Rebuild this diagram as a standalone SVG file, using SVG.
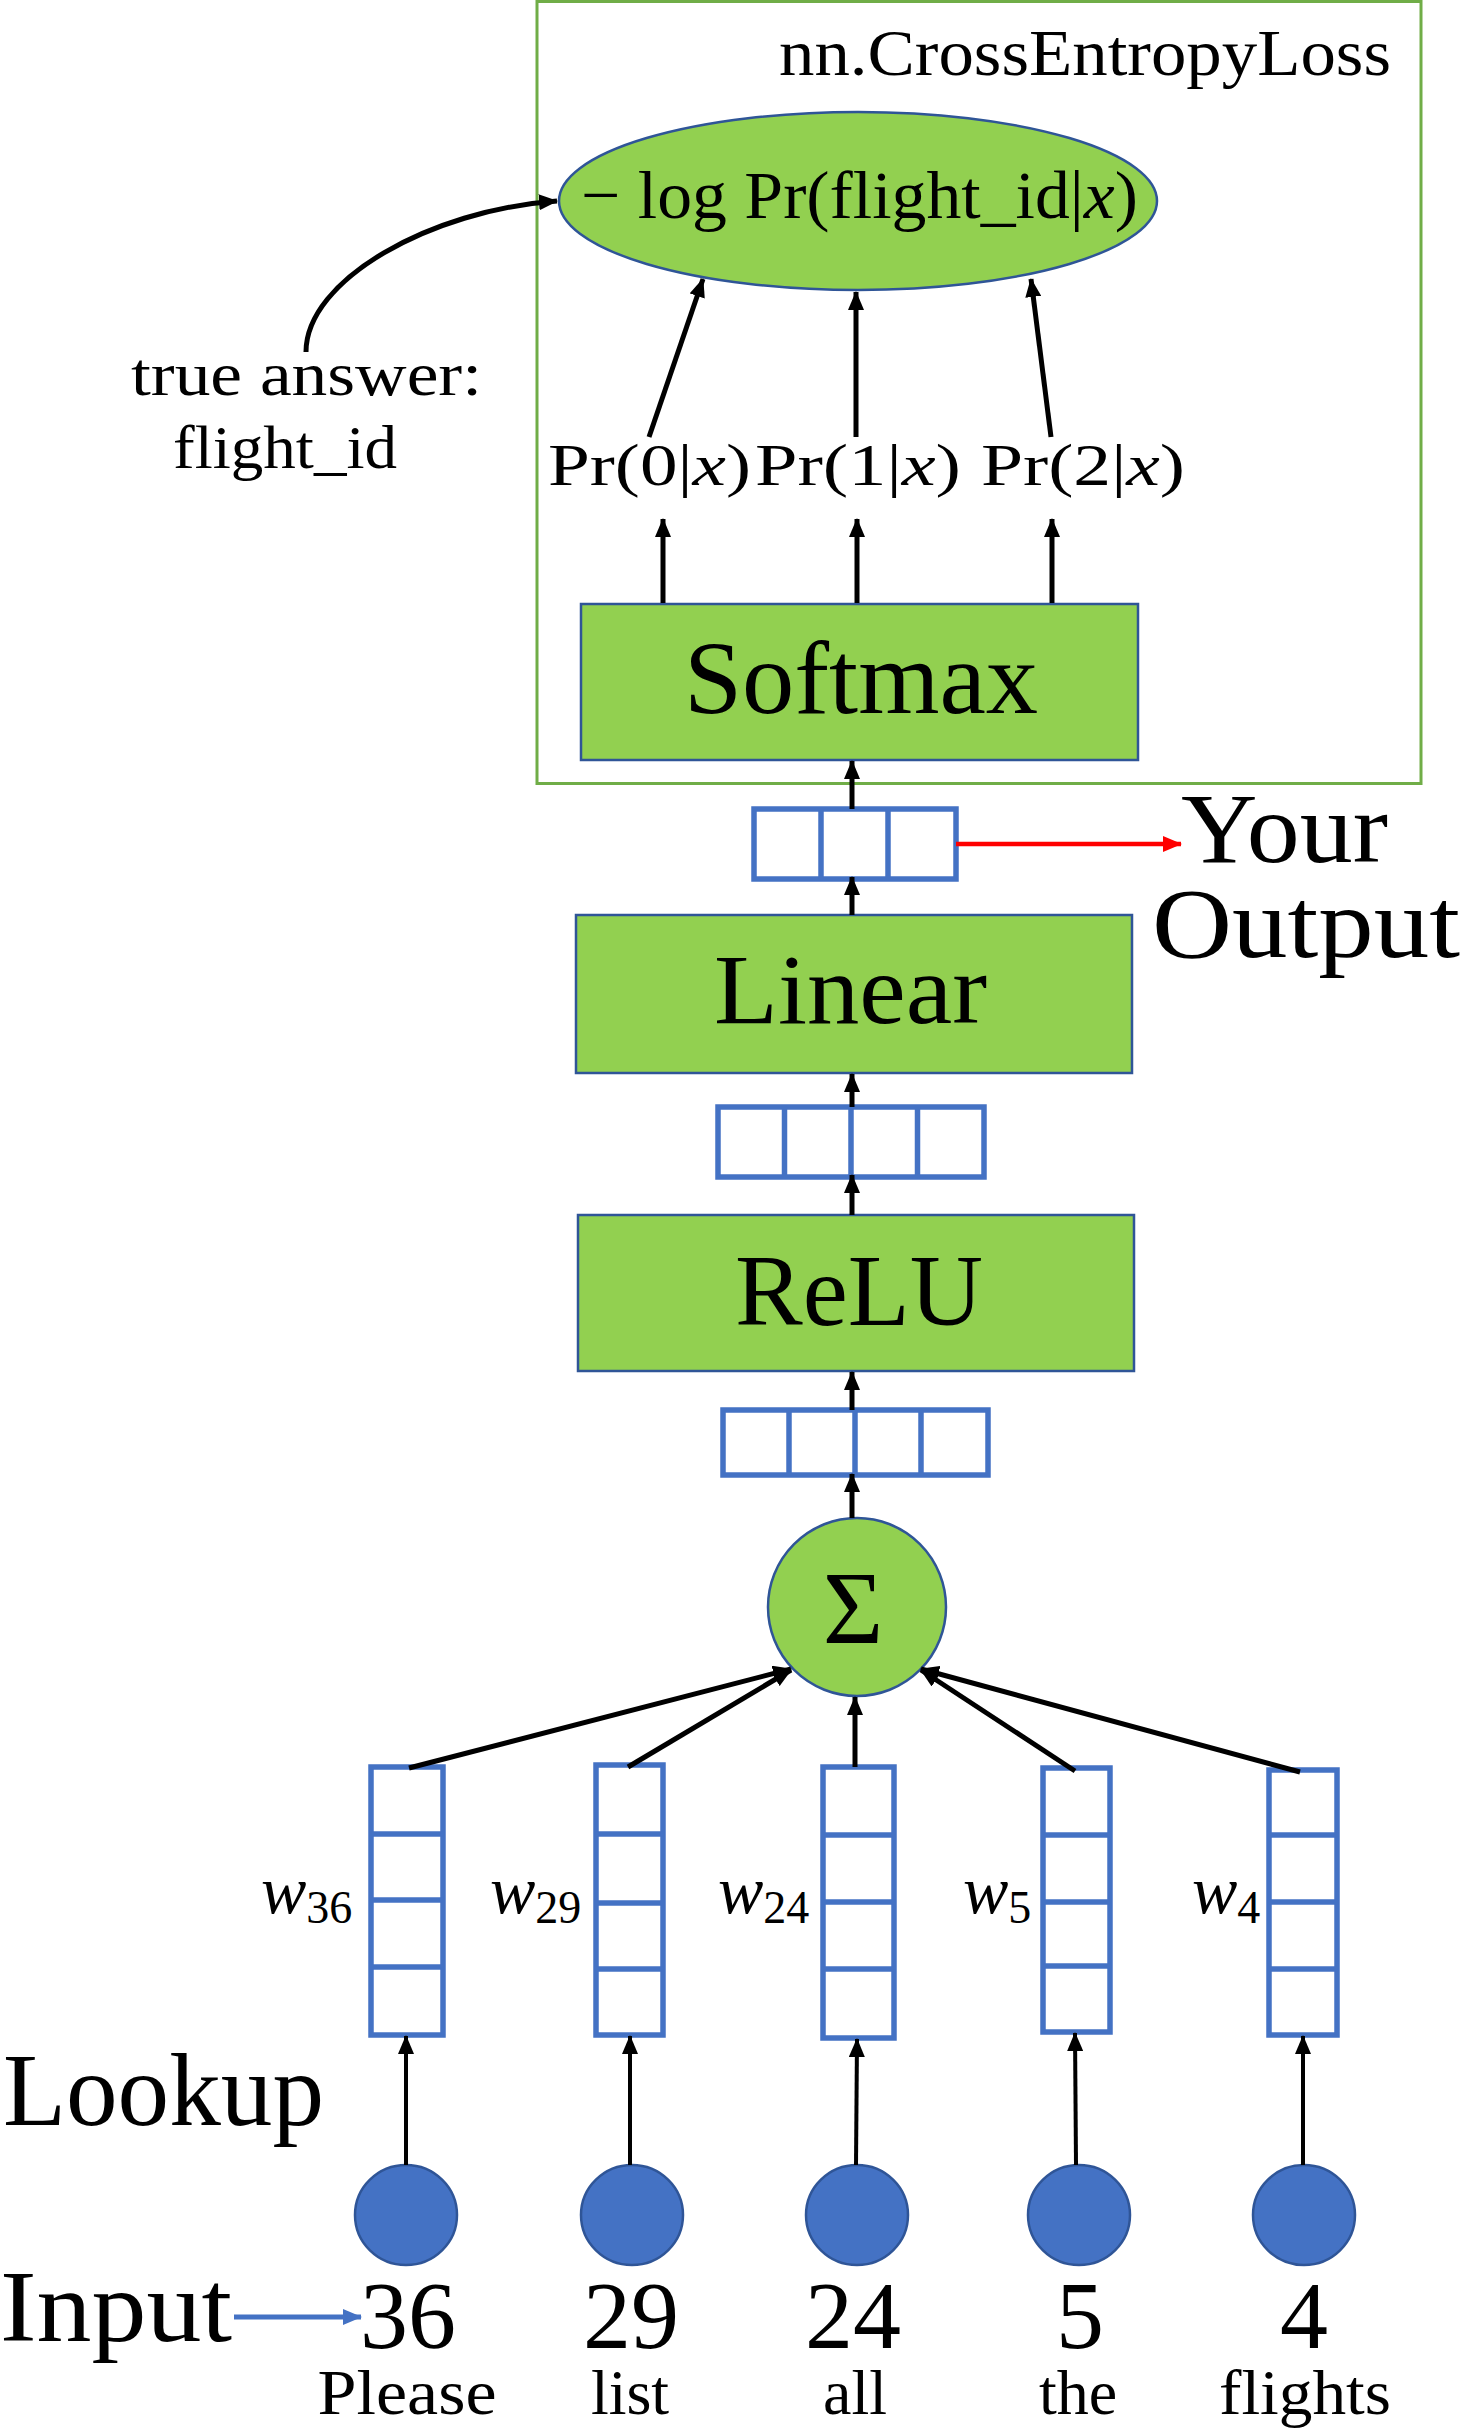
<svg xmlns="http://www.w3.org/2000/svg" width="1464" height="2431" viewBox="0 0 1464 2431">
<style>
text{font-family:"Liberation Serif","Times New Roman",serif;fill:#000}
.box{fill:#92D050;stroke:#2F5597;stroke-width:2.5}
.vec{fill:#fff;stroke:#4472C4;stroke-width:5.5}
.div{stroke:#4472C4;stroke-width:5.5}
.inp{fill:#4472C4;stroke:#2F5597;stroke-width:2.5}
.arr{stroke:#000;stroke-width:5;fill:none;marker-end:url(#ah)}
.thin{stroke-width:4}
.it{font-style:italic}
</style>
<defs>
<marker id="ah" markerUnits="userSpaceOnUse" markerWidth="20" markerHeight="16" refX="18" refY="8" orient="auto"><path d="M0,0 L19,8 L0,16 Z" fill="#000"/></marker>
<marker id="ahr" markerUnits="userSpaceOnUse" markerWidth="20" markerHeight="16" refX="18" refY="8" orient="auto"><path d="M0,0 L19,8 L0,16 Z" fill="#FF0000"/></marker>
<marker id="ahb" markerUnits="userSpaceOnUse" markerWidth="20" markerHeight="16" refX="18" refY="8" orient="auto"><path d="M0,0 L19,8 L0,16 Z" fill="#4472C4"/></marker>
</defs>
<rect width="1464" height="2431" fill="#fff"/>

<g id="loss-frame">
<rect x="537" y="1.5" width="884" height="782" fill="none" stroke="#70AD47" stroke-width="3"/>
<text x="779" y="75" font-size="66" textLength="612" lengthAdjust="spacingAndGlyphs">nn.CrossEntropyLoss</text>
</g>

<g id="loss-node">
<ellipse cx="858" cy="201" rx="299" ry="89" class="box"/>
<text x="581" y="218" font-size="68" textLength="557" lengthAdjust="spacingAndGlyphs">− log Pr(flight_id|<tspan class="it">x</tspan>)</text>
</g>

<g id="true-answer">
<text x="131" y="395" font-size="62" textLength="351" lengthAdjust="spacingAndGlyphs">true answer:</text>
<text x="173" y="468" font-size="62" textLength="224" lengthAdjust="spacingAndGlyphs">flight_id</text>
</g>

<g id="probs">
<text x="548" y="485" font-size="60" textLength="203" lengthAdjust="spacingAndGlyphs">Pr(0|<tspan class="it">x</tspan>)</text>
<text x="755" y="485" font-size="60" textLength="206" lengthAdjust="spacingAndGlyphs">Pr(1|<tspan class="it">x</tspan>)</text>
<text x="981" y="485" font-size="60" textLength="204" lengthAdjust="spacingAndGlyphs">Pr(2|<tspan class="it">x</tspan>)</text>
</g>

<g id="softmax">
<rect x="581" y="604" width="557" height="156" class="box"/>
<text x="684" y="713" font-size="104" textLength="354" lengthAdjust="spacingAndGlyphs">Softmax</text>
</g>

<g id="output-vector">
<rect x="754" y="809" width="202" height="70" class="vec"/>
<line x1="821" y1="809" x2="821" y2="879" class="div"/>
<line x1="888" y1="809" x2="888" y2="879" class="div"/>
</g>

<g id="your-output">
<text x="1181" y="862" font-size="99" textLength="207" lengthAdjust="spacingAndGlyphs">Your</text>
<text x="1152" y="957" font-size="99" textLength="308" lengthAdjust="spacingAndGlyphs">Output</text>
</g>

<g id="linear">
<rect x="576" y="915" width="556" height="158" class="box"/>
<text x="714" y="1023" font-size="100" textLength="273" lengthAdjust="spacingAndGlyphs">Linear</text>
</g>

<g id="hidden-vector">
<rect x="718" y="1107" width="266" height="70" class="vec"/>
<line x1="784.5" y1="1107" x2="784.5" y2="1177" class="div"/>
<line x1="851" y1="1107" x2="851" y2="1177" class="div"/>
<line x1="917.5" y1="1107" x2="917.5" y2="1177" class="div"/>
</g>

<g id="relu">
<rect x="578" y="1215" width="556" height="156" class="box"/>
<text x="735" y="1325" font-size="101" textLength="248" lengthAdjust="spacingAndGlyphs">ReLU</text>
</g>

<g id="sum-vector">
<rect x="723" y="1410" width="265" height="65" class="vec"/>
<line x1="789" y1="1410" x2="789" y2="1475" class="div"/>
<line x1="855" y1="1410" x2="855" y2="1475" class="div"/>
<line x1="921" y1="1410" x2="921" y2="1475" class="div"/>
</g>

<g id="sum">
<ellipse cx="857" cy="1607" rx="89" ry="89" class="box"/>
<text x="853" y="1643" font-size="104" text-anchor="middle">Σ</text>
</g>

<g id="emb-36">
<rect x="371" y="1767" width="72" height="268" class="vec"/>
<line x1="371" y1="1834" x2="443" y2="1834" class="div"/>
<line x1="371" y1="1900" x2="443" y2="1900" class="div"/>
<line x1="371" y1="1967" x2="443" y2="1967" class="div"/>
<text x="261" y="1913" font-size="68"><tspan class="it">w</tspan><tspan dy="10" font-size="46">36</tspan></text>
</g>
<g id="emb-29">
<rect x="596" y="1765" width="67" height="270" class="vec"/>
<line x1="596" y1="1834" x2="663" y2="1834" class="div"/>
<line x1="596" y1="1903" x2="663" y2="1903" class="div"/>
<line x1="596" y1="1969" x2="663" y2="1969" class="div"/>
<text x="490" y="1913" font-size="68"><tspan class="it">w</tspan><tspan dy="10" font-size="46">29</tspan></text>
</g>
<g id="emb-24">
<rect x="823" y="1767" width="71" height="271" class="vec"/>
<line x1="823" y1="1835" x2="894" y2="1835" class="div"/>
<line x1="823" y1="1902" x2="894" y2="1902" class="div"/>
<line x1="823" y1="1969" x2="894" y2="1969" class="div"/>
<text x="718" y="1913" font-size="68"><tspan class="it">w</tspan><tspan dy="10" font-size="46">24</tspan></text>
</g>
<g id="emb-5">
<rect x="1043" y="1768" width="67" height="264" class="vec"/>
<line x1="1043" y1="1835" x2="1110" y2="1835" class="div"/>
<line x1="1043" y1="1902" x2="1110" y2="1902" class="div"/>
<line x1="1043" y1="1966" x2="1110" y2="1966" class="div"/>
<text x="963" y="1913" font-size="68"><tspan class="it">w</tspan><tspan dy="10" font-size="46">5</tspan></text>
</g>
<g id="emb-4">
<rect x="1269" y="1770" width="68" height="265" class="vec"/>
<line x1="1269" y1="1835" x2="1337" y2="1835" class="div"/>
<line x1="1269" y1="1902" x2="1337" y2="1902" class="div"/>
<line x1="1269" y1="1969" x2="1337" y2="1969" class="div"/>
<text x="1192" y="1913" font-size="68"><tspan class="it">w</tspan><tspan dy="10" font-size="46">4</tspan></text>
</g>

<g id="lookup-label"><text x="3" y="2125" font-size="103" textLength="321" lengthAdjust="spacingAndGlyphs">Lookup</text></g>
<g id="input-label"><text x="0" y="2341" font-size="101" textLength="232" lengthAdjust="spacingAndGlyphs">Input</text></g>

<g id="in-36"><ellipse cx="406" cy="2215" rx="51" ry="50" class="inp"/><text x="408" y="2348" font-size="96" text-anchor="middle">36</text><text x="407" y="2414" font-size="64" text-anchor="middle" textLength="179" lengthAdjust="spacingAndGlyphs">Please</text></g>
<g id="in-29"><ellipse cx="632" cy="2215" rx="51" ry="50" class="inp"/><text x="631" y="2348" font-size="96" text-anchor="middle">29</text><text x="630" y="2414" font-size="64" text-anchor="middle">list</text></g>
<g id="in-24"><ellipse cx="857" cy="2215" rx="51" ry="50" class="inp"/><text x="853" y="2348" font-size="96" text-anchor="middle">24</text><text x="855" y="2414" font-size="64" text-anchor="middle">all</text></g>
<g id="in-5"><ellipse cx="1079" cy="2215" rx="51" ry="50" class="inp"/><text x="1080" y="2348" font-size="96" text-anchor="middle">5</text><text x="1078" y="2414" font-size="64" text-anchor="middle">the</text></g>
<g id="in-4"><ellipse cx="1304" cy="2215" rx="51" ry="50" class="inp"/><text x="1304" y="2348" font-size="96" text-anchor="middle">4</text><text x="1305" y="2414" font-size="64" text-anchor="middle" textLength="172" lengthAdjust="spacingAndGlyphs">flights</text></g>

<g id="connectors">
<path d="M306,352 C306,280 430,210 557,201" class="arr" stroke-width="5.5"/>
<line x1="649" y1="437" x2="703" y2="279" class="arr"/>
<line x1="856" y1="437" x2="856" y2="292" class="arr"/>
<line x1="1051" y1="437" x2="1031" y2="279" class="arr"/>
<line x1="663" y1="603" x2="663" y2="519" class="arr"/>
<line x1="857" y1="603" x2="857" y2="519" class="arr"/>
<line x1="1052" y1="603" x2="1052" y2="519" class="arr"/>
<line x1="852" y1="809" x2="852" y2="761" class="arr"/>
<line x1="956" y1="844" x2="1181" y2="844" stroke="#FF0000" stroke-width="4.5" marker-end="url(#ahr)"/>
<line x1="852" y1="915" x2="852" y2="877" class="arr"/>
<line x1="852" y1="1107" x2="852" y2="1074" class="arr"/>
<line x1="852" y1="1215" x2="852" y2="1175" class="arr"/>
<line x1="852" y1="1410" x2="852" y2="1372" class="arr"/>
<line x1="852" y1="1518" x2="852" y2="1474" class="arr"/>
<line x1="409" y1="1768" x2="791" y2="1669" class="arr" stroke-width="6"/>
<line x1="628" y1="1767" x2="791" y2="1670" class="arr"/>
<line x1="855" y1="1767" x2="855" y2="1697" class="arr"/>
<line x1="1075" y1="1771" x2="921" y2="1670" class="arr"/>
<line x1="1300" y1="1772" x2="921" y2="1669" class="arr" stroke-width="6"/>
<line x1="406" y1="2165" x2="406" y2="2036" class="arr thin"/>
<line x1="630" y1="2165" x2="630" y2="2036" class="arr thin"/>
<line x1="856" y1="2165" x2="857" y2="2039" class="arr thin"/>
<line x1="1076" y1="2165" x2="1075" y2="2033" class="arr thin"/>
<line x1="1303" y1="2165" x2="1303" y2="2036" class="arr thin"/>
<line x1="234" y1="2317" x2="361" y2="2317" stroke="#4472C4" stroke-width="5" marker-end="url(#ahb)"/>
</g>
</svg>
